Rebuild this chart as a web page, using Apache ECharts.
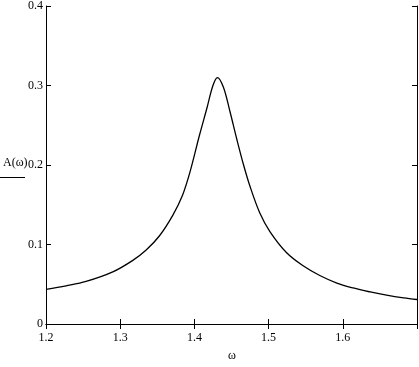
<!DOCTYPE html>
<html><head><meta charset="utf-8">
<script src="https://cdn.jsdelivr.net/npm/echarts@6/dist/echarts.min.js"></script>
<style>html,body{margin:0;padding:0;background:#fff}#c{width:419px;height:367px}</style>
</head><body><div id="c"></div>
<script>
const omega = [1.2, 1.227, 1.254, 1.29, 1.317, 1.335, 1.353, 1.371, 1.384, 1.394, 1.407, 1.417, 1.425, 1.431, 1.439, 1.448, 1.457, 1.466, 1.475, 1.488, 1.502, 1.524, 1.546, 1.569, 1.592, 1.614, 1.637, 1.659, 1.682, 1.7];
const amp = [0.0435, 0.048, 0.0535, 0.0655, 0.080, 0.093, 0.111, 0.137, 0.162, 0.191, 0.238, 0.272, 0.300, 0.310, 0.298, 0.267, 0.233, 0.201, 0.173, 0.140, 0.116, 0.090, 0.0736, 0.061, 0.0515, 0.0453, 0.0403, 0.0362, 0.0328, 0.0308];
const xTitle = 'ω';
const yTitle = 'A(ω)';

const font = {fontFamily: 'Liberation Serif', fontSize: 12, color: '#000'};
const chart = echarts.init(document.getElementById('c'));
const axLine = {show: true, lineStyle: {color: '#000', width: 1}};
const ticks = {show: true, inside: true, length: 5, lineStyle: {color: '#000', width: 1}};
chart.setOption({
  animation: false,
  grid: {left: 46, right: 2, top: 4, bottom: 43, containLabel: false},
  xAxis: [
    {type: 'value', min: 1.2, max: 1.7, interval: 0.1, position: 'bottom',
     axisLine: axLine, axisTick: ticks, splitLine: {show: false},
     axisLabel: Object.assign({margin: 8, showMaxLabel: false, formatter: v => v.toFixed(1)}, font)},
    {type: 'value', min: 1.2, max: 1.7, interval: 0.1, position: 'top',
     axisLine: axLine, axisTick: ticks, splitLine: {show: false}, axisLabel: {show: false}}
  ],
  yAxis: [
    {type: 'value', min: 0, max: 0.4, interval: 0.1, position: 'left',
     axisLine: axLine, axisTick: ticks, splitLine: {show: false},
     axisLabel: Object.assign({margin: 3, formatter: v => v === 0 ? '0' : v.toFixed(1)}, font)},
    {type: 'value', min: 0, max: 0.4, interval: 0.1, position: 'right',
     axisLine: axLine, axisTick: ticks, splitLine: {show: false}, axisLabel: {show: false}}
  ],
  series: [{
    type: 'line', smooth: 0.35, showSymbol: false,
    data: omega.map((x, i) => [x, amp[i]]),
    lineStyle: {color: '#000', width: 1.3}
  }],
  graphic: [
    {type: 'text', left: 3, top: 157, style: {text: yTitle, fill: '#000', font: '12px "Liberation Serif"'}},
    {type: 'line', shape: {x1: 0, y1: 177.5, x2: 25, y2: 177.5}, style: {stroke: '#000', lineWidth: 1}},
    {type: 'text', left: 228, top: 350, style: {text: xTitle, fill: '#000', font: '12px "Liberation Serif"'}}
  ]
});
</script></body></html>
